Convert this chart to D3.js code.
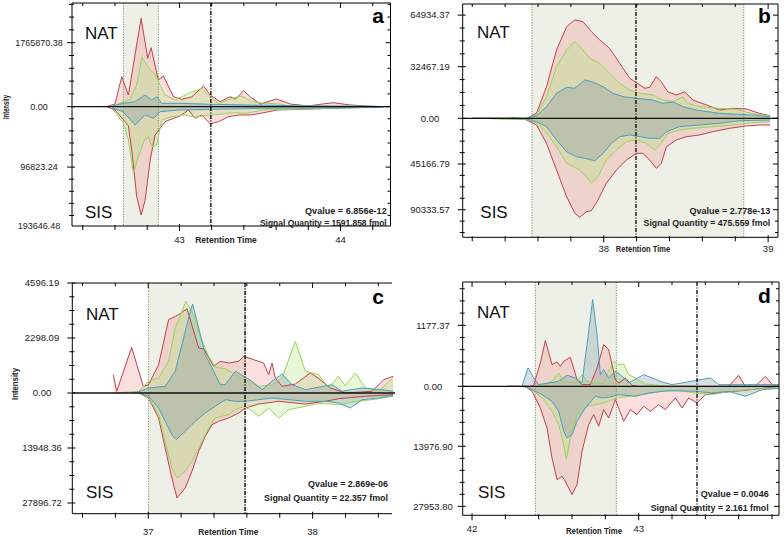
<!DOCTYPE html>
<html><head><meta charset="utf-8">
<script src="https://cdn.jsdelivr.net/npm/d3@7"></script>
<style>body{margin:0;background:#fff} svg{display:block}</style>
</head><body>
<svg id="chart" width="784" height="537"></svg>
<script>
// ---------- DATA (retention time [min], intensity) ----------
// Panel a
const aTimeRange = [42.333, 44.31];
const aNatMax = 2861000, aSisMax = 191240;
const aNatTicks = [1765870.38], aSisTicks = [96823.24, 193646.48];
const aNatStep = 353174.08, aSisStep = 19364.65;
const aXLabels = [43, 44];
const aBand = [42.652, 42.869], aApex = 43.195;
const aQvalue = "6.856e-12", aQuantity = "1591.858";
const aNatRed = [[42.548,0],[42.600,74500],[42.642,828000],[42.683,323000],[42.762,2439000],[42.803,1335000],[42.824,1628000],[42.869,737000],[42.900,847000],[42.963,276000],[43.015,204000],[43.077,276000],[43.149,571000],[43.191,323000],[43.253,138000],[43.315,276000],[43.347,204000],[43.398,441000],[43.440,268000],[43.502,74000],[43.602,212000],[43.689,74000],[43.801,19000],[43.886,74000],[43.956,110000],[44.062,47000],[44.166,19000],[44.268,0]];
const aNatGreen = [[42.581,0],[42.652,138000],[42.693,204000],[42.735,599000],[42.766,1363000],[42.797,1151000],[42.818,1013000],[42.849,902000],[42.880,599000],[42.911,323000],[42.973,185000],[43.077,414000],[43.139,508000],[43.191,276000],[43.243,94000],[43.326,232000],[43.388,295000],[43.451,138000],[43.515,102000],[43.627,74000],[43.689,0],[43.801,19000],[43.920,0],[44.050,19000],[44.250,0]];
const aNatBlue = [[42.569,0],[42.652,94000],[42.724,138000],[42.787,323000],[42.828,185000],[42.859,276000],[42.890,94000],[42.992,94000],[43.191,66000],[43.440,47000],[43.751,28000],[44.250,5000]];
const aSisRed = [[42.548,0],[42.600,5300],[42.662,24000],[42.683,30900],[42.704,69400],[42.735,144300],[42.762,173600],[42.787,149600],[42.818,85400],[42.849,45400],[42.880,34600],[42.911,24000],[42.963,18600],[43.004,14900],[43.056,5300],[43.098,18600],[43.139,13300],[43.191,27700],[43.243,24000],[43.303,16000],[43.367,13300],[43.440,13300],[43.502,10600],[43.606,5300],[43.751,4200],[43.956,2600],[44.166,1000],[44.268,500]];
const aSisGreen = [[42.581,2100],[42.652,26600],[42.683,53400],[42.714,106800],[42.745,80200],[42.782,53400],[42.807,48100],[42.828,64100],[42.859,61400],[42.890,21300],[42.953,16000],[43.035,13300],[43.098,17000],[43.179,13300],[43.222,13300],[43.334,9600],[43.419,10600],[43.515,5300],[43.751,3700],[44.250,500]];
const aSisBlue = [[42.581,2100],[42.652,8000],[42.724,29300],[42.787,13300],[42.838,18600],[42.880,8000],[42.992,5300],[43.200,4200],[43.513,2600],[44.250,1300]];

// Panel b
const bTimeRange = [37.142, 39.06];
const bNatMax = 71920, bSisMax = 117600;
const bNatTicks = [32467.19, 64934.37], bSisTicks = [45166.79, 90333.57];
const bNatStep = 8116.80, bSisStep = 11291.70;
const bXLabels = [38, 39];
const bBand = [37.563, 38.852], bApex = 38.196;
const bQvalue = "2.778e-13", bQuantity = "475.559";
const bNatRed = [[37.20,0],[37.50,0],[37.531,0],[37.591,3100],[37.652,19900],[37.713,43000],[37.774,57600],[37.824,61900],[37.874,60800],[37.925,54500],[37.976,49300],[38.036,44000],[38.097,34600],[38.158,25200],[38.199,22400],[38.249,18900],[38.279,19500],[38.320,26200],[38.350,23000],[38.390,16700],[38.441,14700],[38.492,16700],[38.542,11500],[38.624,8400],[38.704,5200],[38.785,6300],[38.866,5900],[38.947,3100],[39.012,1600]];
const bNatGreen = [[37.20,0],[37.531,0],[37.591,2100],[37.652,13600],[37.713,32500],[37.774,43000],[37.824,48200],[37.865,44000],[37.915,37800],[37.976,34600],[38.036,28300],[38.097,22000],[38.158,17800],[38.219,15700],[38.299,14700],[38.360,11500],[38.421,10400],[38.481,13600],[38.510,9400],[38.583,7300],[38.704,6300],[38.800,5700],[38.900,3100],[39.012,1400]];
const bNatBlue = [[37.20,0],[37.43,0],[37.452,700],[37.47,0],[37.531,0],[37.591,1400],[37.652,7300],[37.713,15700],[37.774,19500],[37.824,18900],[37.885,24100],[37.930,23000],[37.996,19900],[38.056,15700],[38.117,13600],[38.199,12600],[38.299,11500],[38.360,9400],[38.420,10400],[38.481,7300],[38.563,5200],[38.704,3100],[38.900,2100],[39.012,1000]];
const bSisRed = [[37.20,0],[37.50,0],[37.531,1700],[37.591,6600],[37.652,24700],[37.713,51100],[37.774,77500],[37.824,93900],[37.854,97800],[37.895,92300],[37.925,91300],[37.965,80700],[38.016,64200],[38.077,51100],[38.138,41200],[38.199,34600],[38.239,34600],[38.279,41200],[38.320,49400],[38.350,44500],[38.381,28100],[38.441,21400],[38.502,18200],[38.583,16500],[38.664,13200],[38.765,9900],[38.866,7600],[38.947,6600],[39.012,6600]];
const bSisGreen = [[37.20,0],[37.531,1200],[37.591,4300],[37.652,14800],[37.713,28100],[37.774,44500],[37.854,51100],[37.895,57700],[37.925,64200],[37.965,57700],[38.016,41200],[38.077,31300],[38.138,23100],[38.199,21400],[38.259,24700],[38.310,31300],[38.350,24700],[38.390,14800],[38.460,11600],[38.542,9900],[38.664,8300],[38.785,6600],[38.900,4300],[39.012,3400]];
const bSisBlue = [[37.20,0],[37.531,700],[37.591,3400],[37.652,8300],[37.713,21400],[37.774,33000],[37.834,38000],[37.885,39500],[37.945,41900],[37.996,34600],[38.047,24700],[38.097,18200],[38.158,16500],[38.219,18200],[38.279,19800],[38.340,19800],[38.381,13200],[38.460,8300],[38.583,6600],[38.704,4900],[38.826,2400],[39.012,1700]];

// Panel c
const cTimeRange = [36.538, 38.483];
const cNatMax = 4596.19, cSisMax = 30610;
const cNatTicks = [2298.09, 4596.19], cSisTicks = [13948.36, 27896.72];
const cNatStep = 574.52, cSisStep = 3487.09;
const cXLabels = [37, 38];
const cBand = [37.002, 37.589], cApex = 37.589;
const cQvalue = "2.869e-06", cQuantity = "22.357";
const cNatRed = [[36.787,765],[36.808,71],[36.899,1909],[36.970,280],[37.002,347],[37.063,1182],[37.124,3062],[37.185,3271],[37.236,3522],[37.307,1880],[37.339,1838],[37.398,1116],[37.438,1324],[37.489,1253],[37.550,1324],[37.581,1533],[37.642,1391],[37.702,1253],[37.733,765],[37.753,1253],[37.773,627],[37.814,280],[37.895,376],[37.986,836],[38.033,627],[38.108,209],[38.199,0],[38.362,71],[38.433,556],[38.490,700]];
const cNatGreen = [[36.800,0],[36.942,71],[37.002,489],[37.063,627],[37.124,1324],[37.164,2716],[37.205,3413],[37.229,3831],[37.276,3271],[37.316,2369],[37.368,1533],[37.408,1074],[37.469,1015],[37.530,765],[37.590,543],[37.672,280],[37.753,347],[37.814,627],[37.895,2160],[37.956,907],[38.037,765],[38.098,209],[38.156,698],[38.199,305],[38.260,836],[38.321,209],[38.402,84],[38.490,650]];
const cNatBlue = [[36.900,0],[36.942,54],[37.002,209],[37.103,280],[37.164,907],[37.205,2018],[37.256,3413],[37.270,3718],[37.307,2716],[37.347,1600],[37.398,907],[37.438,347],[37.469,347],[37.530,907],[37.581,698],[37.631,489],[37.692,138],[37.753,489],[37.814,794],[37.875,347],[37.956,138],[38.118,347],[38.179,71],[38.301,209],[38.422,138],[38.490,71]];
const cSisRed = [[36.942,0],[37.002,1268],[37.063,6340],[37.103,13948],[37.144,21556],[37.175,26628],[37.225,24092],[37.266,19857],[37.307,14785],[37.347,10981],[37.388,8039],[37.428,7177],[37.489,6340],[37.550,5072],[37.590,3804],[37.672,2790],[37.794,2105],[37.956,2790],[38.077,2105],[38.159,1446],[38.321,837],[38.490,431]];
const cSisGreen = [[36.942,0],[37.002,1090],[37.063,5503],[37.103,12249],[37.144,19020],[37.175,21556],[37.225,19857],[37.266,17321],[37.327,12249],[37.368,8876],[37.408,6340],[37.489,5503],[37.530,4235],[37.581,3373],[37.631,4489],[37.672,5909],[37.733,3804],[37.794,6340],[37.855,4235],[37.956,3373],[38.037,2612],[38.159,2967],[38.260,2206],[38.362,1699],[38.490,837]];
const cSisBlue = [[36.942,0],[37.002,837],[37.063,3804],[37.103,7177],[37.144,10575],[37.170,11843],[37.225,9713],[37.286,7177],[37.347,5072],[37.408,3373],[37.469,1699],[37.530,2105],[37.590,2105],[37.672,1699],[37.753,1268],[37.855,1699],[37.956,2105],[38.077,2105],[38.159,2536],[38.229,3804],[38.301,1699],[38.402,1268],[38.490,583]];

// Panel d
const dTimeRange = [41.944, 43.842];
const dNatMax = 2013, dSisMax = 30044;
const dNatTicks = [1177.37], dSisTicks = [13976.90, 27953.80];
const dNatStep = 235.47, dSisStep = 2795.38;
const dXLabels = [42, 43];
const dBand = [42.380, 42.866], dApex = 43.350;
const dQvalue = "0.0046", dQuantity = "2.161";
const dNatRed = [[42.21,0],[42.35,0],[42.37,19],[42.41,450],[42.44,881],[42.48,418],[42.51,470],[42.53,386],[42.55,482],[42.59,560],[42.63,129],[42.66,32],[42.71,32],[42.75,354],[42.79,804],[42.82,708],[42.86,129],[42.88,64],[42.92,161],[42.96,19],[43.00,0],[43.54,0],[43.60,212],[43.64,0],[43.70,0],[43.76,193],[43.81,0],[43.84,0]];
const dNatGreen = [[42.40,0],[42.42,19],[42.48,96],[42.52,257],[42.55,96],[42.62,64],[42.66,225],[42.69,96],[42.78,45],[42.85,482],[42.88,418],[42.91,431],[42.94,225],[42.98,161],[43.04,45],[43.18,0]];
const dNatBlue = [[42.30,0],[42.336,354],[42.37,161],[42.40,32],[42.46,64],[42.52,96],[42.57,212],[42.62,161],[42.66,64],[42.69,804],[42.724,1673],[42.75,997],[42.77,225],[42.79,322],[42.82,161],[42.86,289],[42.90,193],[42.94,64],[43.03,225],[43.08,161],[43.14,84],[43.20,32],[43.43,161],[43.48,32],[43.84,32]];
const dSisRed = [[42.21,0],[42.32,0],[42.36,1164],[42.41,5046],[42.45,9704],[42.48,16690],[42.51,21736],[42.54,20960],[42.56,22125],[42.60,25230],[42.63,22901],[42.66,15138],[42.70,8927],[42.73,6598],[42.76,9316],[42.79,5434],[42.82,7375],[42.86,3105],[42.91,8151],[42.95,5434],[42.99,6598],[43.03,4658],[43.07,5822],[43.12,4270],[43.16,5434],[43.22,2717],[43.26,5046],[43.30,2717],[43.35,3882],[43.40,1941],[43.48,1553],[43.58,1164],[43.68,776],[43.80,233],[43.84,0]];
const dSisGreen = [[42.32,0],[42.36,776],[42.42,2717],[42.48,5822],[42.52,8927],[42.55,13585],[42.566,17079],[42.59,12033],[42.63,6598],[42.69,4658],[42.76,4114],[42.82,3493],[42.87,2717],[42.94,2329],[43.02,1941],[43.14,1164],[43.24,1009],[43.34,1553],[43.44,1941],[43.54,1164],[43.74,543],[43.84,300]];
const dSisBlue = [[42.30,0],[42.34,388],[42.42,1941],[42.48,3493],[42.52,5822],[42.55,10480],[42.57,12033],[42.60,11256],[42.63,8151],[42.68,5046],[42.74,2329],[42.78,2717],[42.82,2562],[42.88,1941],[42.98,2329],[43.06,1553],[43.18,1009],[43.34,1164],[43.44,1553],[43.54,1164],[43.64,2329],[43.74,776],[43.84,500]];

// ---------- LAYOUT / STYLE ----------
const COLORS = {
  red:   {line:'#c0404a', fill:'rgba(240,135,138,0.28)'},
  green: {line:'#98d35c', fill:'rgba(170,225,115,0.28)'},
  blue:  {line:'#4b9ec0', fill:'rgba(110,140,150,0.28)'}
};
const FONT = "'Liberation Sans', Arial, sans-serif";

const panels = [
 {letter:'a', L:72, R:390.5, clipR:390.5, T:3, B:226, Z:106.7, rightBorder:true,
  time:aTimeRange, natMax:aNatMax, sisMax:aSisMax, natTicks:aNatTicks, sisTicks:aSisTicks,
  natStep:aNatStep, sisStep:aSisStep, xLabels:aXLabels, band:aBand, apex:aApex,
  nat:{red:aNatRed, green:aNatGreen, blue:aNatBlue}, sis:{red:aSisRed, green:aSisGreen, blue:aSisBlue},
  q:aQvalue, sq:aQuantity, labX:39, tickFs:9, xLabDy:13.3, rtX:226, rtW:61.7, rtDy:0,
  intensity:{x:6, y:107, len:24}, letterX:378, letterY:22.7,
  natPos:[85,38.5], sisPos:[85,218.3], qRight:386.7, qY:[211,222.7], qW:[81.7,126.7]},
 {letter:'b', L:462.7, R:778, clipR:778, T:4, B:237.3, Z:118.3, rightBorder:true,
  time:bTimeRange, natMax:bNatMax, sisMax:bSisMax, natTicks:bNatTicks, sisTicks:bSisTicks,
  natStep:bNatStep, sisStep:bSisStep, xLabels:bXLabels, band:bBand, apex:bApex,
  nat:{red:bNatRed, green:bNatGreen, blue:bNatBlue}, sis:{red:bSisRed, green:bSisGreen, blue:bSisBlue},
  q:bQvalue, sq:bQuantity, labX:430, tickFs:9.5, xLabDy:11.4, rtX:643, rtW:54.3, rtDy:0,
  intensity:null, letterX:764.5, letterY:22.7,
  natPos:[477,38.3], sisPos:[480.3,218.3], qRight:770.3, qY:[210.7,222.7], qW:[80.7,126.7]},
 {letter:'c', L:72.3, R:392, clipR:395, T:283, B:513.7, Z:393, rightBorder:false,
  time:cTimeRange, natMax:cNatMax, sisMax:cSisMax, natTicks:cNatTicks, sisTicks:cSisTicks,
  natStep:cNatStep, sisStep:cSisStep, xLabels:cXLabels, band:cBand, apex:cApex,
  nat:{red:cNatRed, green:cNatGreen, blue:cNatBlue}, sis:{red:cSisRed, green:cSisGreen, blue:cSisBlue},
  q:cQvalue, sq:cQuantity, labX:42, tickFs:9.5, xLabDy:17.6, rtX:228.3, rtW:60, rtDy:0,
  intensity:{x:15, y:384, len:32}, letterX:378, letterY:304,
  natPos:[86,319.7], sisPos:[86,498], qRight:388, qY:[484,497.3], qW:[80,124]},
 {letter:'d', L:462.7, R:779, clipR:779, T:282, B:515.3, Z:386.3, rightBorder:true,
  time:dTimeRange, natMax:dNatMax, sisMax:dSisMax, natTicks:dNatTicks, sisTicks:dSisTicks,
  natStep:dNatStep, sisStep:dSisStep, xLabels:dXLabels, band:dBand, apex:dApex,
  nat:{red:dNatRed, green:dNatGreen, blue:dNatBlue}, sis:{red:dSisRed, green:dSisGreen, blue:dSisBlue},
  q:dQvalue, sq:dQuantity, labX:433, tickFs:9.5, xLabDy:13.6, rtX:594, rtW:56, rtDy:2.2,
  intensity:null, letterX:764.5, letterY:303,
  natPos:[477,318], sisPos:[478,498], qRight:768.7, qY:[494,507.3], qW:[68,118]}
];

const svg = d3.select('#chart');
const fmt = d3.format('.2f');

panels.forEach((p, i) => {
  const g = svg.append('g');
  const x = d3.scaleLinear().domain(p.time).range([p.L, p.R]);
  const yN = d3.scaleLinear().domain([0, p.natMax]).range([p.Z, p.T]);
  const yS = d3.scaleLinear().domain([0, p.sisMax]).range([p.Z, p.B]);

  const clipId = 'clip' + i;
  svg.append('clipPath').attr('id', clipId).append('rect')
    .attr('x', p.L).attr('y', p.T).attr('width', p.clipR - p.L).attr('height', p.B - p.T);
  const plot = g.append('g').attr('clip-path', `url(#${clipId})`);

  // integration band
  plot.append('rect').attr('x', x(p.band[0])).attr('y', p.T)
    .attr('width', x(p.band[1]) - x(p.band[0])).attr('height', p.B - p.T)
    .attr('fill', '#eef0e7');

  const order = ['red', 'green', 'blue'];
  const sides = [{data:p.nat, y:yN}, {data:p.sis, y:yS}];
  sides.forEach(s => {
    order.forEach(k => {
      const area = d3.area().x(d => x(d[0])).y0(s.y(0)).y1(d => s.y(d[1]));
      plot.append('path').datum(s.data[k]).attr('d', area).attr('fill', COLORS[k].fill);
    });
  });
  // band borders
  p.band.forEach(t => {
    plot.append('line').attr('x1', x(t)).attr('x2', x(t)).attr('y1', p.T).attr('y2', p.B)
      .attr('stroke', '#7d8f62').attr('stroke-width', 1).attr('stroke-dasharray', '1.2,1.4');
  });
  sides.forEach(s => {
    order.forEach(k => {
      const line = d3.line().x(d => x(d[0])).y(d => s.y(d[1]));
      plot.append('path').datum(s.data[k]).attr('d', line).attr('fill', 'none')
        .attr('stroke', COLORS[k].line).attr('stroke-width', 1);
    });
  });
  // zero line
  plot.append('line').attr('x1', p.L).attr('x2', p.clipR).attr('y1', p.Z).attr('y2', p.Z)
    .attr('stroke', '#111').attr('stroke-width', 1.3);
  // apex dash-dot line
  plot.append('line').attr('x1', x(p.apex)).attr('x2', x(p.apex)).attr('y1', p.T).attr('y2', p.B)
    .attr('stroke', '#000').attr('stroke-width', 1.3).attr('stroke-dasharray', '4,1.5,1,1.5');

  // frame
  const ax = g.append('g').attr('stroke', '#000').attr('stroke-width', 1).attr('fill', 'none');
  ax.append('line').attr('x1', p.L).attr('x2', p.L).attr('y1', p.T).attr('y2', p.B);
  ax.append('line').attr('x1', p.L).attr('x2', p.R).attr('y1', p.B).attr('y2', p.B);
  ax.append('line').attr('x1', p.L).attr('x2', p.R).attr('y1', p.T).attr('y2', p.T);
  if (p.rightBorder) ax.append('line').attr('x1', p.R).attr('x2', p.R).attr('y1', p.T).attr('y2', p.B);

  // y ticks
  const yTicks = [];
  d3.range(0, p.natMax + 1e-9, p.natStep).forEach(v => yTicks.push({y: yN(v), major: p.natTicks.some(t => Math.abs(t - v) < p.natStep / 10) || v === 0}));
  d3.range(p.sisStep, p.sisMax + 1e-9, p.sisStep).forEach(v => yTicks.push({y: yS(v), major: p.sisTicks.some(t => Math.abs(t - v) < p.sisStep / 10)}));
  yTicks.forEach(t => {
    const len = t.major ? 5 : 3;
    ax.append('line').attr('x1', p.L - len).attr('x2', p.L + (t.major ? 3 : 2)).attr('y1', t.y).attr('y2', t.y);
    if (p.rightBorder) ax.append('line').attr('x1', p.R - len).attr('x2', p.R).attr('y1', t.y).attr('y2', t.y);
  });
  // x ticks
  const t0 = Math.ceil(p.time[0] * 5 - 1e-6), t1 = Math.floor(p.time[1] * 5 + 1e-6);
  d3.range(t0, t1 + 1).forEach(k => {
    const t = k / 5, xx = x(t), major = k % 5 === 0;
    ax.append('line').attr('x1', xx).attr('x2', xx).attr('y1', p.B - (major ? 2 : 1)).attr('y2', p.B + (major ? 5 : 4));
    ax.append('line').attr('x1', xx).attr('x2', xx).attr('y1', p.T).attr('y2', p.T + (major ? 5 : 3));
  });

  // tick labels
  const labels = [{v: 0, y: p.Z}].concat(p.natTicks.map(v => ({v, y: yN(v)})), p.sisTicks.map(v => ({v, y: Math.min(yS(v), p.B)})));
  labels.forEach(l => {
    g.append('text').attr('x', p.labX).attr('y', l.y).attr('dy', '0.35em')
      .attr('text-anchor', 'middle').attr('font-family', FONT).attr('font-size', p.tickFs)
      .attr('fill', '#222').text(fmt(l.v));
  });
  p.xLabels.forEach(v => {
    g.append('text').attr('x', x(v)).attr('y', p.B + p.xLabDy).attr('dy', '0.35em')
      .attr('text-anchor', 'middle').attr('font-family', FONT).attr('font-size', 9.5)
      .attr('fill', '#222').text(v);
  });
  g.append('text').attr('x', p.rtX).attr('y', p.B + p.xLabDy + p.rtDy).attr('dy', '0.35em')
    .attr('text-anchor', 'middle').attr('font-family', FONT).attr('font-size', 9.5).attr('font-weight', 'bold')
    .attr('textLength', p.rtW).attr('lengthAdjust', 'spacingAndGlyphs').attr('fill', '#222').text('Retention Time');
  if (p.intensity) {
    g.append('text').attr('transform', `translate(${p.intensity.x},${p.intensity.y}) rotate(-90)`)
      .attr('dy', '0.35em').attr('text-anchor', 'middle').attr('font-family', FONT).attr('font-size', 9)
      .attr('font-weight', 'bold').attr('textLength', p.intensity.len).attr('lengthAdjust', 'spacingAndGlyphs')
      .attr('fill', '#222').text('Intensity');
  }
  // panel annotations
  g.append('text').attr('x', p.natPos[0]).attr('y', p.natPos[1]).attr('font-family', FONT)
    .attr('font-size', 17).attr('fill', '#111').text('NAT');
  g.append('text').attr('x', p.sisPos[0]).attr('y', p.sisPos[1]).attr('font-family', FONT)
    .attr('font-size', 17).attr('fill', '#111').text('SIS');
  g.append('text').attr('x', p.letterX).attr('y', p.letterY).attr('text-anchor', 'middle')
    .attr('font-family', FONT).attr('font-size', 21).attr('font-weight', 'bold').attr('fill', '#000').text(p.letter);
  [['Qvalue = ' + p.q, p.qY[0], p.qW[0]], ['Signal Quantity = ' + p.sq + ' fmol', p.qY[1], p.qW[1]]].forEach(([txt, yy, w]) => {
    g.append('text').attr('x', p.qRight).attr('y', yy).attr('dy', '0.35em').attr('text-anchor', 'end')
      .attr('font-family', FONT).attr('font-size', 9.5).attr('font-weight', 'bold')
      .attr('textLength', w).attr('lengthAdjust', 'spacingAndGlyphs').attr('fill', '#222').text(txt);
  });
});
</script>
</body></html>
